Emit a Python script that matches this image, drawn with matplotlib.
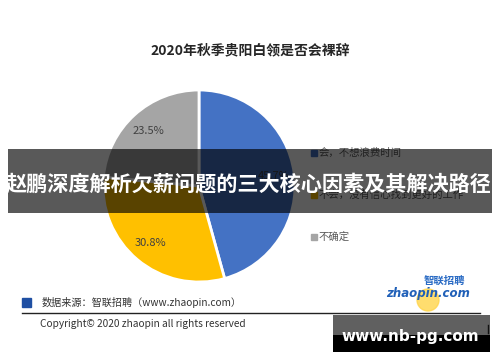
"""Recreate the 2020 Guiyang white-collar resignation pie chart"""
import matplotlib
matplotlib.use('Agg')
import matplotlib.pyplot as plt
from matplotlib.patches import Rectangle, Circle

plt.rcParams['font.family'] = ['Noto Sans CJK SC', 'DejaVu Sans']

title = '2020年秋季贵阳白领是否会裸辞'
labels = ['会，不想浪费时间', '不会，没有信心找到更好的工作', '不确定']
shares = [45.7, 30.8, 23.5]
colors = ['#4472C4', '#FFC000', '#A5A5A5']
source = '数据来源：智联招聘（www.zhaopin.com）'
copyright_text = 'Copyright© 2020 zhaopin all rights reserved'
banner_text = '赵鹏深度解析欠薪问题的三大核心因素及其解决路径'
watermark = 'www.nb-pg.com'

W, H = 500, 362
fig = plt.figure(figsize=(W / 100, H / 100), dpi=100)
fig.patch.set_facecolor('white')

# base layer in pixel coordinates (y grows downward)
base = fig.add_axes([0, 0, 1, 1], zorder=0)
base.set_xlim(0, W)
base.set_ylim(H, 0)
base.axis('off')

base.text(250, 50, title, ha='center', va='center', fontsize=10,
          fontweight='bold', color='#262626')

# legend
for i, (lab, col) in enumerate(zip(labels, colors)):
    y = 153 + 42 * i
    base.add_patch(Rectangle((311, y - 3), 6, 6, color=col))
    base.text(319, y, lab, ha='left', va='center', fontsize=7.5, color='#595959')

# footer
base.add_patch(Rectangle((22, 298), 9, 9, color='#1F4FA3'))
base.text(42, 302, source, ha='left', va='center', fontsize=7.3, color='#333333')
base.plot([22, 480], [313, 313], color='#222222', lw=1)
base.text(40, 324, copyright_text, ha='left', va='center', fontsize=7.3,
          color='#333333')

# zhaopin logo
base.add_patch(Circle((428, 300), 11, color='#FFD54A', alpha=0.8))
base.text(444, 281, '智联招聘', ha='center', va='center', fontsize=7.5,
          color='#2A6BC4', fontweight='bold', style='italic')
base.text(428, 293, 'zhaopin.com', ha='center', va='center', fontsize=8.5,
          color='#2060B8', fontweight='bold', style='italic',
          family='DejaVu Sans')

# pie
cx, cy, r = 199, 186, 96
pie_ax = fig.add_axes([(cx - r) / W, (H - cy - r) / H, 2 * r / W, 2 * r / H],
                      zorder=1)
wedges, texts, autotexts = pie_ax.pie(
    shares, colors=colors, startangle=90, counterclock=False,
    autopct='%.1f%%', pctdistance=0.78,
    wedgeprops=dict(edgecolor='white', linewidth=2))
for t in autotexts:
    t.set_fontsize(8)
    t.set_color('#404040')
pie_ax.set_xlim(-1, 1)
pie_ax.set_ylim(-1, 1)
pie_ax.axis('off')

# overlay layer: banner and watermark
top = fig.add_axes([0, 0, 1, 1], zorder=2)
top.set_xlim(0, W)
top.set_ylim(H, 0)
top.axis('off')
top.patch.set_alpha(0)

top.add_patch(Rectangle((8, 149), 484, 64, color='black', alpha=0.65, lw=0))
top.text(249, 184, banner_text, ha='center', va='center', fontsize=15.2,
         fontweight='bold', color='white')

top.add_patch(Rectangle((333, 315), 157, 20, color='#606060', lw=0))
top.add_patch(Rectangle((333, 335), 157, 17, color='black', lw=0))
top.plot([488, 488], [325, 333], color='#111111', lw=1)
top.text(410, 337, watermark, ha='center', va='center', fontsize=11,
         fontweight='bold', color='white', family='DejaVu Sans')

fig.savefig('out.png', dpi=100)
